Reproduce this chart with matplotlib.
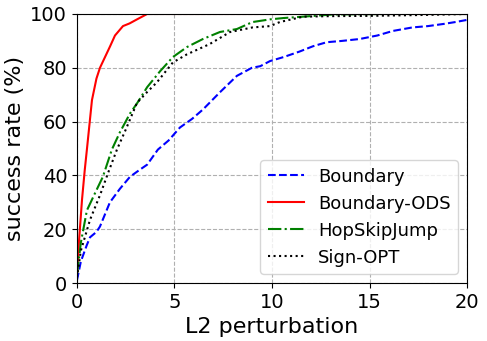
import matplotlib
matplotlib.use("Agg")
import matplotlib.pyplot as plt

# Courbes (perturbation L2 -> taux de succès en %)
boundary_x = [0, 0.2, 0.5, 0.67, 1.0, 1.18, 1.69, 2.2, 2.72, 3.2, 3.6, 4.15, 4.7, 5.28, 5.9, 6.46,
              7.33, 8.2, 8.97, 9.4, 9.9, 10.6, 11.4, 12.1, 12.8, 13.6, 14.5, 15.4, 16.2, 17.2, 18.0, 18.8, 19.4, 20]
boundary_y = [1, 8, 14, 17, 19, 21, 30, 35, 39.5, 42, 44, 49.6, 53, 57.8, 61, 64.5,
              70.9, 77, 80, 80.6, 82.5, 84, 86, 88, 89.5, 90, 90.7, 92, 93.7, 95, 95.5, 96.3, 97, 97.8]

ods_x = [0, 0.1, 0.26, 0.4, 0.51, 0.77, 1.0, 1.18, 1.44, 1.7, 1.95, 2.36, 2.7, 3.08, 3.6, 20]
ods_y = [3, 15, 31, 42, 49.6, 68, 76, 80, 84, 88, 92, 95.5, 96.5, 98, 100, 100]

hsj_x = [0, 0.2, 0.51, 0.9, 1.33, 1.79, 2.2, 2.72, 3.1, 3.6, 4.26, 4.92, 5.64, 6.46, 7.33, 8.2,
         9.0, 9.9, 10.6, 11.4, 13.1, 16, 20]
hsj_y = [3, 15, 27, 33, 39.5, 49.6, 56, 63, 67, 72.8, 78.7, 84, 87.7, 90.7, 93.3, 94.4,
         97, 98, 98.5, 98.9, 99.8, 100, 100]

signopt_x = [0, 0.2, 0.67, 1.2, 1.6, 2.05, 2.5, 3.08, 3.6, 4.1, 4.92, 5.64, 6.8, 7.85, 9.0, 9.9,
             10.4, 11.6, 13.0, 15.0, 17.5, 20]
signopt_y = [2, 12, 23.5, 33, 41, 49.6, 57, 67, 71, 74.6, 82, 85, 88.8, 93.3, 95, 95.5,
             97, 99, 99.2, 99.3, 99.6, 100]

fig = plt.figure(figsize=(4.87, 3.41), dpi=100)
ax = fig.add_axes([0.158, 0.170, 0.801, 0.789])

ax.plot(boundary_x, boundary_y, 'b--', lw=1.5, label='Boundary')
ax.plot(ods_x, ods_y, 'r-', lw=1.5, label='Boundary-ODS')
ax.plot(hsj_x, hsj_y, 'g-.', lw=1.5, label='HopSkipJump')
ax.plot(signopt_x, signopt_y, 'k:', lw=1.5, label='Sign-OPT')

ax.set_xlim(0, 20)
ax.set_ylim(0, 100)
ax.set_xticks([0, 5, 10, 15, 20])
ax.set_yticks([0, 20, 40, 60, 80, 100])
ax.tick_params(labelsize=14)
ax.grid(True, linestyle='--', color='#b0b0b0', lw=0.8)
ax.set_xlabel('L2 perturbation', fontsize=16)
ax.set_ylabel('success rate (%)', fontsize=16)
ax.legend(loc='lower right', fontsize=13)

fig.savefig('out.png', dpi=100)
